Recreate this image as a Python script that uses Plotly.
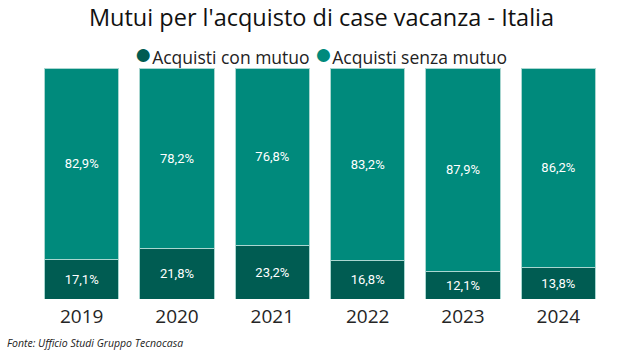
import plotly.graph_objects as go

years = ["2019", "2020", "2021", "2022", "2023", "2024"]
con_mutuo = [17.1, 21.8, 23.2, 16.8, 12.1, 13.8]
senza_mutuo = [82.9, 78.2, 76.8, 83.2, 87.9, 86.2]
series_names = ["Acquisti con mutuo", "Acquisti senza mutuo"]

dark = "#005C52"
light = "#008A7C"
edge = "#a9d6d0"

def fmt(v):
    return f"{v:.1f}%".replace(".", ",")

fig = go.Figure()
for name, vals, col in [(series_names[0], con_mutuo, dark), (series_names[1], senza_mutuo, light)]:
    fig.add_trace(go.Bar(x=years, y=vals, name=name,
                         marker=dict(color=col, line=dict(color=edge, width=1)),
                         text=[fmt(v) for v in vals], textposition="inside", insidetextanchor="middle",
                         textfont=dict(color="white", size=13, family="Roboto"),
                         showlegend=False, hoverinfo="skip"))

legend_text = (f"<span style='color:{dark};font-size:30px'>●</span>{series_names[0]} "
               f"<span style='color:{light};font-size:30px'>●</span>{series_names[1]}")

fig.update_layout(
    width=643, height=361,
    barmode="stack", bargap=0.22,
    paper_bgcolor="white", plot_bgcolor="white",
    margin=dict(l=34, r=37, t=68, b=62),
    font=dict(family="Open Sans, Noto Sans, sans-serif", color="#222"),
    title=dict(text="Mutui per l'acquisto di case vacanza - Italia", x=0.5, xanchor="center",
               y=0.95, yanchor="middle", font=dict(size=23.5, color="#111")),
    showlegend=False,
    xaxis=dict(showgrid=False, showline=False, ticks="", tickfont=dict(size=19, color="#252525"),
               ticklabelstandoff=4, fixedrange=True),
    yaxis=dict(visible=False, range=[0, 100], fixedrange=True),
    annotations=[
        dict(text=legend_text, xref="paper", yref="paper", x=0.5, y=1.069, xanchor="center",
             yanchor="middle", showarrow=False, font=dict(size=17.5, color="#222")),
        dict(text="<i>Fonte: Ufficio Studi Gruppo Tecnocasa</i>", xref="paper", yref="paper",
             x=-0.0507, y=-0.1905, xanchor="left", yanchor="middle", showarrow=False,
             font=dict(size=10.5, color="#222")),
    ],
)

fig.write_html("out.html", config={"displayModeBar": False},
               post_script="document.body.style.margin='0';")
